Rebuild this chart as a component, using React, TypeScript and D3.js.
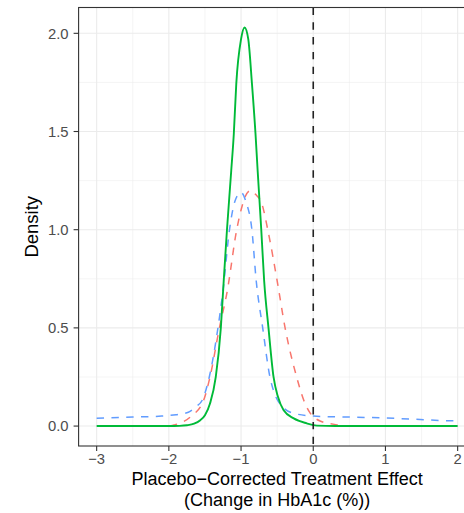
import React from "react";
import * as d3 from "d3";

// ---- data ----
const xTicks = [-3, -2, -1, 0, 1, 2];
const xTickLabels = ["−3", "−2", "−1", "0", "1", "2"];
const xMinor = [-2.5, -1.5, -0.5, 0.5, 1.5];
const yTicks = [0, 0.5, 1, 1.5, 2];
const yTickLabels = ["0.0", "0.5", "1.0", "1.5", "2.0"];
const yMinor = [0.25, 0.75, 1.25, 1.75];

const solidX = [-3, -2.0, -1.85, -1.75, -1.65, -1.565, -1.5, -1.43, -1.35, -1.28, -1.24, -1.195, -1.136, -1.1, -1.066, -1.0, -0.951, -0.9, -0.849, -0.8, -0.77, -0.72, -0.68, -0.62, -0.55, -0.49, -0.41, -0.27, -0.09, 0.05, 0.3, 2.0];
const solidY = [0, 0, 0.001, 0.004, 0.012, 0.03, 0.055, 0.115, 0.25, 0.5, 0.74, 1.0, 1.3, 1.49, 1.744, 1.97, 2.03, 1.97, 1.744, 1.49, 1.3, 1.0, 0.74, 0.5, 0.25, 0.15, 0.08, 0.039, 0.014, 0.002, 0, 0];

const redX = [-1.985, -1.93, -1.7, -1.52, -1.43, -1.3, -1.19, -1.06, -1.0, -0.94, -0.87, -0.8, -0.71, -0.63, -0.5, -0.39, -0.23, -0.13, -0.04, 0.12, 0.33, 0.37];
const redY = [0, 0.005, 0.047, 0.13, 0.25, 0.5, 0.69, 1.0, 1.1, 1.17, 1.2, 1.18, 1.13, 1.0, 0.74, 0.5, 0.25, 0.13, 0.065, 0.022, 0.005, 0];

const blueX = [-3, -2.5, -2.1, -1.9, -1.73, -1.62, -1.54, -1.44, -1.32, -1.25, -1.16, -1.08, -1.0, -0.93, -0.85, -0.79, -0.7, -0.6, -0.55, -0.43, -0.27, 0.0, 0.33, 0.6, 0.93, 1.34, 1.94, 2.0];
const blueY = [0.04, 0.046, 0.051, 0.058, 0.07, 0.1, 0.13, 0.25, 0.5, 0.69, 1.0, 1.15, 1.19, 1.14, 1.0, 0.74, 0.5, 0.25, 0.18, 0.1, 0.065, 0.051, 0.047, 0.045, 0.042, 0.036, 0.027, 0.027];

const refLineX = 0;

const W = 464;
const H = 513;
const FONT = "'Liberation Sans', Arial, Helvetica, sans-serif";

export default function App() {
  const left = 78.6;
  const right = 475.7;
  const top = 7.5;
  const bottom = 446;
  const x = d3.scaleLinear().domain([-3.25, 2.25]).range([left, right]);
  const y = d3.scaleLinear().domain([-0.1015, 2.1315]).range([bottom, top]);

  const mk = (xs: number[], ys: number[]) =>
    d3
      .line<number>()
      .x((_, i) => x(xs[i]))
      .y((d) => y(d))
      .curve(d3.curveMonotoneX)(ys) || "";

  const tickCol = "#4D4D4D";
  const dash = "7.4,7.4";

  return (
    <svg
      width={W}
      height={H}
      style={{ position: "absolute", left: 0, top: 0, background: "#fff" }}
    >
      <defs>
        <clipPath id="panel">
          <rect x={left} y={top} width={right - left} height={bottom - top} />
        </clipPath>
      </defs>
      <rect x={0} y={0} width={W} height={H} fill="#fff" />
      {/* minor grid */}
      {xMinor.map((v) => (
        <line key={"xm" + v} x1={x(v)} x2={x(v)} y1={top} y2={bottom} stroke="#EBEBEB" strokeWidth={0.55} />
      ))}
      {yMinor.map((v) => (
        <line key={"ym" + v} x1={left} x2={right} y1={y(v)} y2={y(v)} stroke="#EBEBEB" strokeWidth={0.55} />
      ))}
      {/* major grid */}
      {xTicks.map((v) => (
        <line key={"xg" + v} x1={x(v)} x2={x(v)} y1={top} y2={bottom} stroke="#EBEBEB" strokeWidth={1.1} />
      ))}
      {yTicks.map((v) => (
        <line key={"yg" + v} x1={left} x2={right} y1={y(v)} y2={y(v)} stroke="#EBEBEB" strokeWidth={1.1} />
      ))}

      <g clipPath="url(#panel)">
        <path d={mk(redX, redY)} fill="none" stroke="#F8766D" strokeWidth={1.5} strokeDasharray={dash} />
        <path d={mk(blueX, blueY)} fill="none" stroke="#619CFF" strokeWidth={1.5} strokeDasharray={dash} />
        <path d={mk(solidX, solidY)} fill="none" stroke="#00BA38" strokeWidth={1.9} />
        <line x1={x(refLineX)} x2={x(refLineX)} y1={top} y2={bottom} stroke="#222" strokeWidth={1.6} strokeDasharray={dash} />
      </g>

      {/* panel border */}
      <rect x={left} y={top} width={right - left} height={bottom - top} fill="none" stroke="#333333" strokeWidth={1.1} />

      {/* x axis ticks */}
      {xTicks.map((v, i) => (
        <g key={"xt" + v}>
          <line x1={x(v)} x2={x(v)} y1={bottom} y2={bottom + 5} stroke="#333333" strokeWidth={1.1} />
          <text x={x(v)} y={464} textAnchor="middle" fontFamily={FONT} fontSize={14.8} fill={tickCol}>
            {xTickLabels[i]}
          </text>
        </g>
      ))}
      {/* y axis ticks */}
      {yTicks.map((v, i) => (
        <g key={"yt" + v}>
          <line x1={left - 5} x2={left} y1={y(v)} y2={y(v)} stroke="#333333" strokeWidth={1.1} />
          <text x={68.5} y={y(v)} dy="0.36em" textAnchor="end" fontFamily={FONT} fontSize={14.8} fill={tickCol}>
            {yTickLabels[i]}
          </text>
        </g>
      ))}

      {/* axis titles */}
      <text x={(left + right) / 2} y={485} textAnchor="middle" fontFamily={FONT} fontSize={18} fill="#000">
        Placebo−Corrected Treatment Effect
      </text>
      <text x={(left + right) / 2} y={505.5} textAnchor="middle" fontFamily={FONT} fontSize={18} fill="#000">
        (Change in HbA1c (%))
      </text>
      <text
        transform={`translate(38.2, ${(top + bottom) / 2}) rotate(-90)`}
        textAnchor="middle"
        fontFamily={FONT}
        fontSize={18.5}
        fill="#000"
      >
        Density
      </text>
    </svg>
  );
}
